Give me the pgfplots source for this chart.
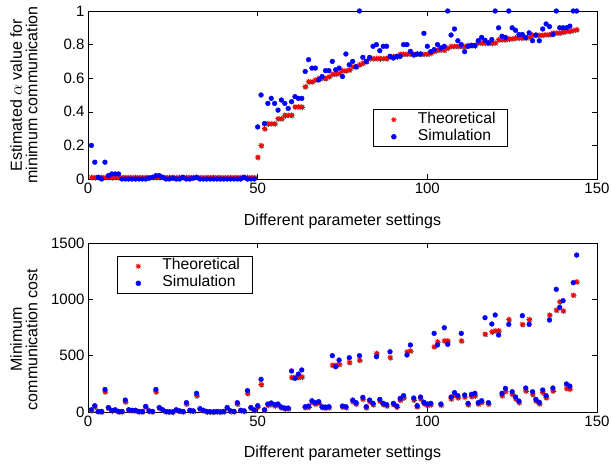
\documentclass[border=0pt]{standalone}
\usepackage{fontspec}
\setmainfont{Liberation Sans}
\usepackage{pgfplots}
\usepackage{pgfplotstable}
\pgfplotsset{compat=1.18}

\pgfdeclareplotmark{mstar}{%
  \pgfpathmoveto{\pgfqpoint{-\pgfplotmarksize}{0pt}}\pgfpathlineto{\pgfqpoint{\pgfplotmarksize}{0pt}}%
  \pgfpathmoveto{\pgfqpoint{0pt}{-\pgfplotmarksize}}\pgfpathlineto{\pgfqpoint{0pt}{\pgfplotmarksize}}%
  \pgfpathmoveto{\pgfqpoint{-0.707\pgfplotmarksize}{-0.707\pgfplotmarksize}}\pgfpathlineto{\pgfqpoint{0.707\pgfplotmarksize}{0.707\pgfplotmarksize}}%
  \pgfpathmoveto{\pgfqpoint{-0.707\pgfplotmarksize}{0.707\pgfplotmarksize}}\pgfpathlineto{\pgfqpoint{0.707\pgfplotmarksize}{-0.707\pgfplotmarksize}}%
  \pgfusepathqstroke}

\pgfplotstableread{
x t s
1 0.01 0.20
2 0.01 0.10
3 0.01 0.01
4 0.01 0.00
5 0.01 0.10
6 0.01 0.02
7 0.01 0.03
8 0.01 0.03
9 0.01 0.03
10 0.01 0.00
11 0.01 0.00
12 0.01 0.00
13 0.01 0.00
14 0.01 0.00
15 0.01 0.00
16 0.01 0.00
17 0.01 0.00
18 0.01 0.005
19 0.01 0.01
20 0.01 0.02
21 0.01 0.02
22 0.01 0.01
23 0.01 0.00
24 0.01 0.00
25 0.01 0.005
26 0.01 0.00
27 0.01 0.00
28 0.01 0.01
29 0.01 0.00
30 0.01 0.00
31 0.01 0.005
32 0.01 0.01
33 0.01 0.00
34 0.01 0.00
35 0.01 0.00
36 0.01 0.00
37 0.01 0.00
38 0.01 0.00
39 0.01 0.00
40 0.01 0.00
41 0.01 0.00
42 0.01 0.00
43 0.01 0.00
44 0.01 0.00
45 0.01 0.00
46 0.01 0.01
47 0.01 0.00
48 0.01 0.00
49 0.01 0.00
50 0.13 0.31
51 0.20 0.50
52 0.30 0.33
53 0.33 0.45
54 0.33 0.48
55 0.33 0.45
56 0.36 0.41
57 0.36 0.47
58 0.38 0.45
59 0.38 0.42
60 0.38 0.46
61 0.43 0.49
62 0.43 0.48
63 0.43 0.48
64 0.55 0.64
65 0.58 0.71
66 0.58 0.66
67 0.59 0.66
68 0.60 0.59
69 0.60 0.61
70 0.60 0.645
71 0.61 0.645
72 0.625 0.70
73 0.625 0.65
74 0.63 0.66
75 0.645 0.61
76 0.645 0.744
77 0.65 0.68
78 0.668 0.70
79 0.67 0.668
80 0.68 1.00
81 0.69 0.724
82 0.70 0.70
83 0.718 0.724
84 0.718 0.79
85 0.718 0.80
86 0.718 0.764
87 0.718 0.79
88 0.718 0.79
89 0.73 0.73
90 0.73 0.72
91 0.73 0.73
92 0.744 0.73
93 0.744 0.80
94 0.744 0.80
95 0.744 0.76
96 0.744 0.738
97 0.744 0.744
98 0.744 0.744
99 0.744 0.867
100 0.744 0.79
101 0.75 0.758
102 0.76 0.77
103 0.768 0.80
104 0.768 0.78
105 0.768 0.79
106 0.78 1.00
107 0.79 0.857
108 0.79 0.893
109 0.79 0.823
110 0.79 0.80
111 0.79 0.758
112 0.795 0.79
113 0.795 0.795
114 0.795 0.795
115 0.81 0.823
116 0.81 0.843
117 0.81 0.826
118 0.81 0.81
119 0.81 0.83
120 0.81 1.00
121 0.83 0.90
122 0.83 0.85
123 0.83 0.843
124 0.835 1.00
125 0.835 0.90
126 0.84 0.885
127 0.84 0.86
128 0.84 0.86
129 0.84 0.843
130 0.845 0.87
131 0.857 0.823
132 0.857 0.857
133 0.857 0.823
134 0.857 0.893
135 0.86 0.923
136 0.86 0.907
137 0.87 0.86
138 0.87 1.00
139 0.87 0.90
140 0.875 0.90
141 0.88 0.90
142 0.88 0.91
143 0.885 1.00
144 0.89 1.00
}\toptable

\pgfplotstableread{
x t s
1 15 20
2 50 56
3 3 5
4 3 5
5 180 200
6 35 40
7 12 15
8 16 20
9 3 5
10 3 5
11 92 106
12 16 20
13 12 15
14 12 15
15 3 5
16 3 5
17 44 50
18 8 10
19 3 5
20 180 200
21 35 40
22 16 20
23 3 5
24 1 2
25 1 2
26 16 20
27 8 10
28 3 5
29 72 83
30 12 15
31 8 10
32 146 166
33 25 30
34 12 15
35 3 5
36 1 2
37 1 2
38 3 5
39 1 2
40 3 5
41 35 40
42 8 10
43 3 5
44 72 83
45 12 15
46 8 10
47 165 190
48 35 40
49 15 18
50 48 56
51 245 290
52 16 20
53 62 71
54 70 80
55 56 65
56 62 71
57 38 44
58 30 35
59 30 35
60 308 364
61 310 299
62 308 337
63 314 373
64 40 47
65 46 53
66 88 100
67 72 83
68 80 92
69 40 47
70 38 44
71 40 47
72 417 500
73 417 402
74 423 461
75 46 53
76 40 47
77 441 482
78 92 106
79 72 83
80 461 500
81 115 130
82 40 47
83 92 106
84 67 77
85 521 491
86 98 112
87 67 77
88 56 65
89 485 535
90 67 77
91 46 53
92 106 121
93 128 145
94 535 506
95 544 595
96 108 124
97 48 56
98 118 133
99 75 86
100 62 71
101 67 77
102 580 698
103 624 595
104 62 71
105 633 748
106 633 601
107 118 133
108 150 172
109 128 145
110 633 698
111 134 151
112 67 77
113 138 157
114 146 166
115 72 83
116 88 100
117 692 837
118 72 83
119 713 781
120 722 861
121 722 683
122 146 166
123 185 210
124 822 778
125 158 180
126 118 133
127 85 97
128 778 855
129 188 213
130 822 778
131 158 180
132 98 112
133 75 86
134 172 195
135 128 145
136 861 816
137 188 213
138 905 1089
139 979 929
140 899 988
141 210 249
142 205 230
143 1038 1148
144 1157 1393
}\bottable

\pgfplotsset{
  myaxis/.style={
    scale only axis, width=509pt, height=168pt,
    xmin=0, xmax=150, xtick={0,50,100,150},
    clip=false,
    axis line style={line width=0.7pt},
    every tick/.style={black, line width=0.6pt},
    tick align=inside, major tick length=5pt,
    xtick pos=both, ytick pos=both,
    /pgf/number format/assume math mode=true,
    /pgf/number format/1000 sep={},
    tick label style={font=\fontsize{15}{15}\selectfont},
    label style={font=\fontsize{16}{15.5}\selectfont},
    xlabel={Different parameter settings},
    legend cell align=left,
    legend style={font=\fontsize{15.7}{15.5}\selectfont, draw=black, line width=0.6pt,
      inner xsep=7pt, inner ysep=2pt, row sep=1pt, column sep=5pt,
      nodes={inner xsep=5pt, inner ysep=0.5pt, text height=11pt, text depth=4pt}},
  },
  mylegimg/.style={legend image code/.code={\pgfpathrectangle{\pgfqpoint{0pt}{-4pt}}{\pgfqpoint{28pt}{8pt}}\pgfusepath{discard}\draw[mark repeat=2,mark phase=2,##1] plot coordinates {(0pt,0pt) (14pt,0pt) (28pt,0pt)};}},
  shad/.style={only marks, mark=mstar, mark size=2.7pt, black!75, mark options={line width=0.6pt, xshift=0.7pt, yshift=-0.7pt}, forget plot},
  theo/.style={only marks, mark=mstar, mark size=2.7pt, red, mark options={line width=0.75pt}, mylegimg},
  simu/.style={only marks, mark=*, mark size=2.4pt, blue, mark options={draw=blue, fill=blue}, mylegimg},
}

\begin{document}
\begin{tikzpicture}
\begin{axis}[myaxis, at={(0pt,0pt)}, anchor=south west,
  ymin=0, ymax=1, ytick={0,0.2,0.4,0.6,0.8,1},
  ylabel={Estimated $\alpha$ value for\\minimum communication},
  ylabel style={align=center, at={(axis description cs:-0.1257,0.5)}, anchor=center},
  xlabel style={at={(axis description cs:0.5,-0.274)}, anchor=base},
  legend style={at={(0.559,0.19)}, anchor=south west}]
\addplot[shad] table[x=x, y=t] {\toptable};
\addplot[theo] table[x=x, y=t] {\toptable};
\addlegendentry{Theoretical}
\addplot[simu] table[x=x, y=s] {\toptable};
\addlegendentry{Simulation}
\end{axis}
\begin{axis}[myaxis, at={(0pt,-233pt)}, anchor=south west, height=169pt,
  ymin=0, ymax=1500, ytick={0,500,1000,1500},
  ylabel={Minimum\\communication cost},
  ylabel style={align=center, at={(axis description cs:-0.1257,0.43)}, anchor=center},
  xlabel style={at={(axis description cs:0.5,-0.272)}, anchor=base},
  legend style={at={(0.057,0.923)}, anchor=north west}]
\addplot[shad] table[x=x, y=t] {\bottable};
\addplot[theo] table[x=x, y=t] {\bottable};
\addlegendentry{Theoretical}
\addplot[simu] table[x=x, y=s] {\bottable};
\addlegendentry{Simulation}
\end{axis}
\pgfresetboundingbox
\path[use as bounding box] (-88pt,179pt) rectangle (523pt,-287pt);
\end{tikzpicture}
\end{document}
